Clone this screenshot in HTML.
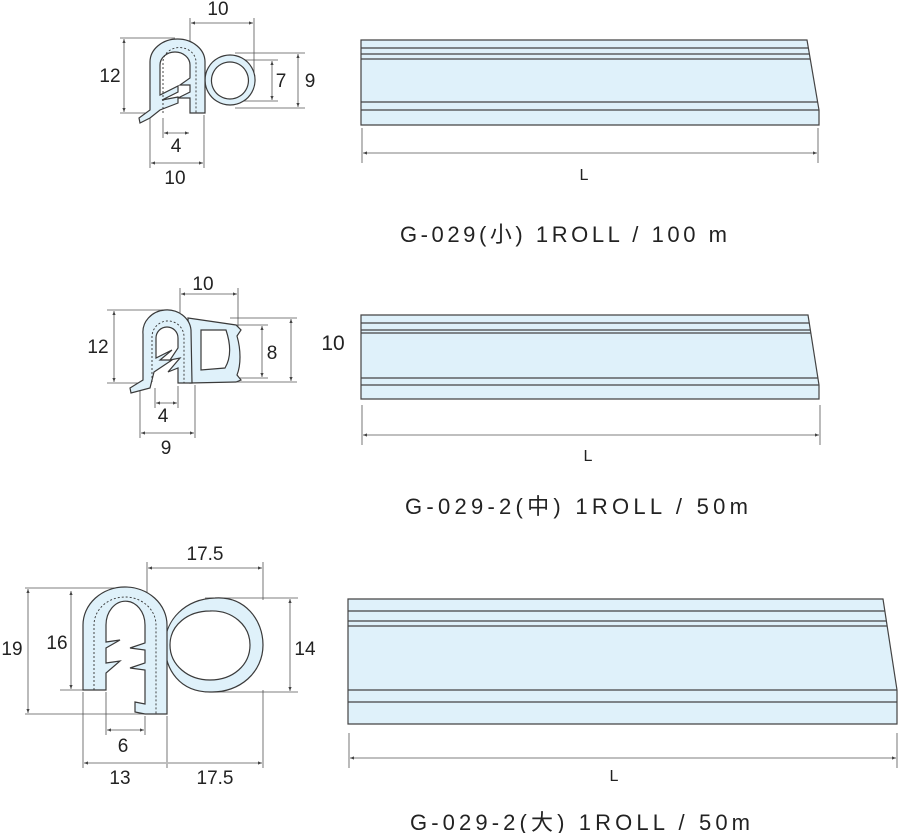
<!DOCTYPE html>
<html><head><meta charset="utf-8"><style>
html,body{margin:0;padding:0;background:#fff}
svg{display:block}
text{font-family:"Liberation Sans","Noto Sans CJK KR",sans-serif;fill:#222}
.d{stroke:#555;stroke-width:.8;fill:none}
.p{fill:#dff1fa;stroke:#3a3a3a;stroke-width:1.2}
.dash{fill:none;stroke:#333;stroke-width:.9;stroke-dasharray:2 2}
.b{fill:#dff1fa;stroke:#444;stroke-width:1.2}
.l{stroke:#444;stroke-width:1.2}
.t{font-size:19px}
</style></head><body>
<svg width="900" height="833" viewBox="0 0 900 833" xmlns="http://www.w3.org/2000/svg">
<defs>
<marker id="a" viewBox="0 0 10 10" refX="10" refY="5" markerWidth="7" markerHeight="5" orient="auto-start-reverse"><path d="M0,1 L10,5 L0,9 Z" fill="#444"/></marker>
</defs>

<!-- ===== Profile 1 ===== -->
<g>
<path class="d" d="M190,18 V113 M254,18 V80 M150,113 V168 M204,115 V168 M163,118 V138 M120,38 H175 M120,113 H150 M235,53 H305 M235,108 H305 M235,60 H278 M235,101 H278"/>
<path class="d" d="M191,23 H253" marker-start="url(#a)" marker-end="url(#a)"/>
<path class="d" d="M124,39 V112" marker-start="url(#a)" marker-end="url(#a)"/>
<path class="d" d="M272,61 V100" marker-start="url(#a)" marker-end="url(#a)"/>
<path class="d" d="M298,54 V107" marker-start="url(#a)" marker-end="url(#a)"/>
<path class="d" d="M164,133 H189" marker-start="url(#a)" marker-end="url(#a)"/>
<path class="d" d="M151,163 H203" marker-start="url(#a)" marker-end="url(#a)"/>
<path class="p" fill-rule="evenodd" d="M230,55 a25,25 0 1 0 0.1,0 Z M230,62 a18.5,18.5 0 1 1 -0.1,0 Z"/>
<path class="p" d="M150,110 L150,62 A27.5,23 0 0 1 205,62 L205,113 L190,113 L190,98 L178,98 L190,92 L190,85 L180,85 L190,78 L190,65 A15,13 0 0 0 160,65 L160,95 L178,86 L178,92 L162,100 L178,97 L178,103 L160,110 L150,118 L140,123 L139,118 Z"/>
<path class="dash" d="M163,113 V62 A16,14 0 0 1 196,62 V113"/>
<text class="t" x="218" y="15" text-anchor="middle">10</text>
<text class="t" x="110" y="82" text-anchor="middle">12</text>
<text class="t" x="281" y="87" text-anchor="middle">7</text>
<text class="t" x="310" y="87" text-anchor="middle">9</text>
<text class="t" x="176" y="152" text-anchor="middle">4</text>
<text class="t" x="175" y="184" text-anchor="middle">10</text>
</g>

<!-- Bar 1 -->
<path class="b" d="M361,40 L807,40 L819,110 L819,125 L361,125 Z"/>
<path class="l" d="M361,48 H808 M361,54 H809 M361,59 H810 M361,102 H818 M361,110 H819"/>
<path class="d" d="M362,128 V163 M818,128 V163"/>
<path class="d" d="M363,153 H817" marker-start="url(#a)" marker-end="url(#a)"/>
<text x="584" y="180" font-size="16" text-anchor="middle">L</text>
<text x="400" y="242" font-size="22" textLength="327" lengthAdjust="spacing">G-029(小)   1ROLL / 100 m</text>

<!-- ===== Profile 2 ===== -->
<g>
<path class="d" d="M180,288 V383 M238,288 V330 M107,310 H170 M107,383 H140 M230,318 H297 M230,382 H297 M230,325 H268 M230,378 H268 M155,388 V408 M140,388 V438 M195,385 V438 M178,386 V408"/>
<path class="d" d="M181,294 H237" marker-start="url(#a)" marker-end="url(#a)"/>
<path class="d" d="M114,311 V382" marker-start="url(#a)" marker-end="url(#a)"/>
<path class="d" d="M262,326 V377" marker-start="url(#a)" marker-end="url(#a)"/>
<path class="d" d="M291,319 V381" marker-start="url(#a)" marker-end="url(#a)"/>
<path class="d" d="M156,403 H177" marker-start="url(#a)" marker-end="url(#a)"/>
<path class="d" d="M141,433 H194" marker-start="url(#a)" marker-end="url(#a)"/>
<path class="p" fill-rule="evenodd" d="M188,318 L236,325 L241,330 L237,336 C241,350 241,365 237,375 L241,380 L236,382 L190,383 Z M201,330 L226,330 C231,345 231,358 225,368 L201,370 Z"/>
<path class="p" d="M143,380 L143,334 A24,22 0 0 1 191,330 L192,383 L178,383 L178,368 L168,372 L180,358 L170,360 L178,348 L178,338 A11,11 0 0 0 156,338 L156,358 L172,350 L160,360 L172,360 L154,372 L150,388 L131,393 L130,388 Z"/>
<path class="dash" d="M152,382 V338 A15,15 0 0 1 184,336 V383"/>
<text class="t" x="203" y="290" text-anchor="middle">10</text>
<text class="t" x="98" y="353" text-anchor="middle">12</text>
<text class="t" x="272" y="359" text-anchor="middle">8</text>
<text class="t" x="163" y="422" text-anchor="middle">4</text>
<text class="t" x="166" y="454" text-anchor="middle">9</text>
</g>

<!-- Bar 2 -->
<text x="333" y="350" font-size="21" text-anchor="middle">10</text>
<path class="b" d="M361,315 L808,315 L819,385 L819,399 L361,399 Z"/>
<path class="l" d="M361,323 H809 M361,330 H810 M361,333 H811 M361,378 H818 M361,385 H819"/>
<path class="d" d="M362,405 V445 M820,405 V445"/>
<path class="d" d="M363,435 H819" marker-start="url(#a)" marker-end="url(#a)"/>
<text x="588" y="461" font-size="16" text-anchor="middle">L</text>
<text x="405" y="514" font-size="22" textLength="343" lengthAdjust="spacing">G-029-2(中)   1ROLL / 50m</text>

<!-- ===== Profile 3 ===== -->
<g>
<path class="d" d="M147,562 V714 M263,562 V600 M25,588 H135 M25,714 H147 M60,690 H83 M205,598 H298 M205,692 H298 M83,692 V768 M167,716 V768 M263,690 V768 M106,692 V735 M145,716 V735"/>
<path class="d" d="M148,568 H262" marker-start="url(#a)" marker-end="url(#a)"/>
<path class="d" d="M28,589 V713" marker-start="url(#a)" marker-end="url(#a)"/>
<path class="d" d="M71,591 V689" marker-start="url(#a)" marker-end="url(#a)"/>
<path class="d" d="M290,599 V691" marker-start="url(#a)" marker-end="url(#a)"/>
<path class="d" d="M107,730 H144" marker-start="url(#a)" marker-end="url(#a)"/>
<path class="d" d="M84,763 H166 M168,763 H262" marker-start="url(#a)" marker-end="url(#a)"/>
<path class="p" fill-rule="evenodd" d="M215,598 C245,596 263,620 263,645 C263,672 240,693 210,692 C180,692 165,670 165,645 C165,620 185,599 215,598 Z M210,611 C232,610 250,625 250,645 C250,665 233,680 210,680 C188,680 170,665 170,645 C170,625 188,611 210,611 Z"/>
<path class="p" d="M83,690 L83,625 A42,38 0 0 1 167,625 L167,714 L145,714 L135,712 L135,702 L145,704 L145,670 L130,668 L145,663 L145,650 L130,648 L145,643 L145,625 A18,22 0 0 0 106,625 L106,642 L120,640 L106,648 L106,663 L120,661 L106,673 L106,690 Z"/>
<path class="dash" d="M94,690 V625 A31,28 0 0 1 156,625 V714"/>
<text class="t" x="205" y="560" text-anchor="middle">17.5</text>
<text class="t" x="12" y="655" text-anchor="middle">19</text>
<text class="t" x="57" y="649" text-anchor="middle">16</text>
<text class="t" x="305" y="655" text-anchor="middle">14</text>
<text class="t" x="123" y="752" text-anchor="middle">6</text>
<text class="t" x="120" y="784" text-anchor="middle">13</text>
<text class="t" x="215" y="784" text-anchor="middle">17.5</text>
</g>

<!-- Bar 3 -->
<path class="b" d="M348,599 L883,599 L897,690 L897,724 L348,724 Z"/>
<path class="l" d="M348,611 H885 M348,621 H886 M348,626 H887 M348,690 H897 M348,702 H897"/>
<path class="d" d="M349,733 V768 M897,733 V768"/>
<path class="d" d="M350,758 H896" marker-start="url(#a)" marker-end="url(#a)"/>
<text x="614" y="781" font-size="16" text-anchor="middle">L</text>
<text x="410" y="830" font-size="22" textLength="340" lengthAdjust="spacing">G-029-2(大)   1ROLL / 50m</text>
</svg>
</body></html>
